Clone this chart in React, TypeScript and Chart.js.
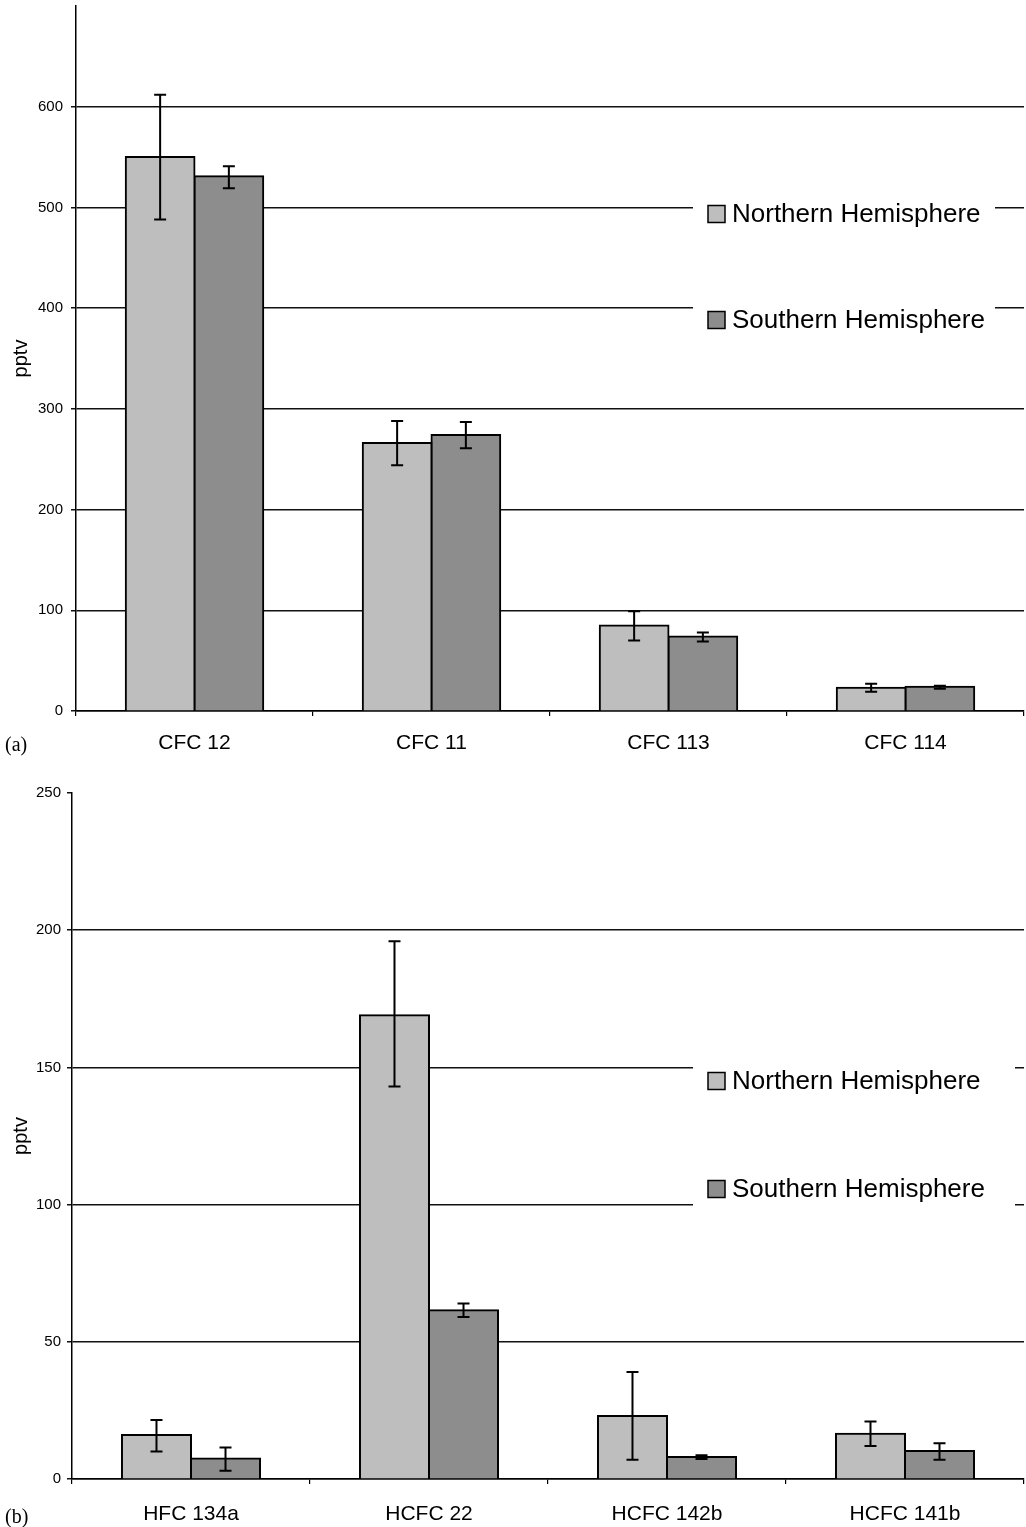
import React, { useEffect, useRef } from 'react';
import { Chart, registerables } from 'chart.js';
Chart.register(...registerables);

const seriesNames = ['Northern Hemisphere', 'Southern Hemisphere'];

// Panel (a)
const categoriesA = ['CFC 12', 'CFC 11', 'CFC 113', 'CFC 114'];
const northA = [550, 266, 85, 23];
const northALow = [488, 244, 70, 19];
const northAHigh = [612, 288, 99, 27];
const southA = [531, 274, 74, 24];
const southALow = [519, 261, 69, 22];
const southAHigh = [541, 287, 78, 25];
const yTicksA = [0, 100, 200, 300, 400, 500, 600];

// Panel (b)
const categoriesB = ['HFC 134a', 'HCFC 22', 'HCFC 142b', 'HCFC 141b'];
const northB = [16, 169, 23, 16.5];
const northBLow = [10, 143, 7, 12];
const northBHigh = [21.5, 196, 39, 21];
const southB = [7.5, 61.5, 8, 10.2];
const southBLow = [3, 59, 7.3, 7];
const southBHigh = [11.5, 64, 8.7, 13];
const yTicksB = [0, 50, 100, 150, 200, 250];

const NH_COLOR = '#bebebe';
const SH_COLOR = '#8d8d8d';
const FONT = '"Liberation Sans", Arial, Helvetica, sans-serif';

const errorBarPlugin = {
  id: 'errorBars',
  afterDatasetsDraw(chart: any) {
    const ctx = chart.ctx;
    const yScale = chart.scales.y;
    ctx.save();
    ctx.strokeStyle = '#000';
    ctx.lineWidth = 2;
    chart.data.datasets.forEach((ds: any, di: number) => {
      const meta = chart.getDatasetMeta(di);
      meta.data.forEach((bar: any, i: number) => {
        const lo = yScale.getPixelForValue(ds.errLow[i]);
        const hi = yScale.getPixelForValue(ds.errHigh[i]);
        const x = bar.x;
        const cap = 6;
        ctx.beginPath();
        ctx.moveTo(x, lo);
        ctx.lineTo(x, hi);
        ctx.moveTo(x - cap, lo);
        ctx.lineTo(x + cap, lo);
        ctx.moveTo(x - cap, hi);
        ctx.lineTo(x + cap, hi);
        ctx.stroke();
      });
    });
    ctx.restore();
  },
};

const boxLegendPlugin = {
  id: 'boxLegend',
  afterDraw(chart: any, _args: any, opts: any) {
    const ctx = chart.ctx;
    const b = opts.box;
    ctx.save();
    ctx.fillStyle = '#fff';
    ctx.fillRect(b.x, b.y, b.w, b.h);
    opts.rows.forEach((r: any, i: number) => {
      ctx.fillStyle = chart.data.datasets[i].backgroundColor;
      ctx.fillRect(opts.swatchX, r - 8.5, 17, 17);
      ctx.strokeStyle = '#000';
      ctx.lineWidth = 1.5;
      ctx.strokeRect(opts.swatchX, r - 8.5, 17, 17);
      ctx.fillStyle = '#000';
      ctx.font = `${opts.fontSize}px ${FONT}`;
      ctx.textBaseline = 'middle';
      ctx.textAlign = 'left';
      ctx.fillText(chart.data.datasets[i].label, opts.textX, r + 1);
    });
    ctx.restore();
  },
};

type PanelProps = {
  top: number;
  height: number;
  categories: string[];
  north: number[];
  northLow: number[];
  northHigh: number[];
  south: number[];
  southLow: number[];
  southHigh: number[];
  yTicks: number[];
  yMax: number;
  yStep: number;
  padTop: number;
  axisWidth: number;
  xHeight: number;
  xTickPad: number;
  yTickPad: number;
  legend: any;
};

function Panel(p: PanelProps) {
  const ref = useRef<HTMLCanvasElement | null>(null);
  useEffect(() => {
    if (!ref.current) return;
    const lastTick = p.yTicks[p.yTicks.length - 1];
    const chart = new Chart(ref.current, {
      type: 'bar',
      data: {
        labels: p.categories,
        datasets: [
          {
            label: seriesNames[0],
            data: p.north,
            backgroundColor: NH_COLOR,
            borderColor: '#000',
            borderWidth: 2,
            inflateAmount: 1,
            errLow: p.northLow,
            errHigh: p.northHigh,
          } as any,
          {
            label: seriesNames[1],
            data: p.south,
            backgroundColor: SH_COLOR,
            borderColor: '#000',
            borderWidth: 2,
            inflateAmount: 1,
            errLow: p.southLow,
            errHigh: p.southHigh,
          } as any,
        ],
      },
      options: {
        responsive: false,
        animation: false,
        devicePixelRatio: 1,
        layout: { padding: { top: p.padTop, right: 2, left: 0, bottom: 0 } },
        datasets: { bar: { categoryPercentage: 0.58, barPercentage: 1.0 } },
        plugins: {
          legend: { display: false },
          tooltip: { enabled: false },
          boxLegend: p.legend,
        } as any,
        scales: {
          x: {
            offset: true,
            grid: {
              display: true,
              drawOnChartArea: false,
              drawTicks: true,
              tickLength: 5,
              offset: true,
              color: '#000',
              lineWidth: 1.2,
            },
            border: { display: true, color: '#000', width: 1.5 },
            ticks: {
              color: '#000',
              padding: p.xTickPad,
              font: { family: FONT, size: 21 },
              maxRotation: 0,
            },
            afterFit: (s: any) => {
              s.height = p.xHeight;
              s.paddingLeft = 0;
              s.paddingRight = 0;
            },
          },
          y: {
            min: 0,
            max: p.yMax,
            ticks: {
              stepSize: p.yStep,
              color: '#000',
              padding: p.yTickPad,
              font: { family: FONT, size: 15 },
            },
            afterBuildTicks: (s: any) => {
              s.ticks = s.ticks.filter((t: any) => p.yTicks.includes(t.value));
            },
            grid: {
              color: (c: any) =>
                c.tick && (c.tick.value === lastTick && lastTick === p.yMax) ? 'rgba(0,0,0,0)' : '#111',
              tickColor: '#111',
              lineWidth: 1.5,
              tickLength: 5,
            },
            border: { display: true, color: '#000', width: 1.5 },
            title: {
              display: true,
              text: 'pptv',
              color: '#000',
              font: { family: FONT, size: 20 },
              padding: { top: 9, bottom: 0 },
            },
            afterFit: (s: any) => {
              s.width = p.axisWidth;
              s.paddingTop = 0;
              s.paddingBottom = 0;
            },
          },
        },
      },
      plugins: [errorBarPlugin, boxLegendPlugin],
    } as any);
    return () => chart.destroy();
  }, []);
  return (
    <canvas
      ref={ref}
      width={1026}
      height={p.height}
      style={{ position: 'absolute', left: 0, top: p.top, width: 1026, height: p.height }}
    />
  );
}

export default function App() {
  return (
    <div style={{ position: 'absolute', left: 0, top: 0, width: 1026, height: 1527, background: '#fff', overflow: 'hidden' }}>
      <Panel
        top={0}
        height={770}
        categories={categoriesA}
        north={northA}
        northLow={northALow}
        northHigh={northAHigh}
        south={southA}
        southLow={southALow}
        southHigh={southAHigh}
        yTicks={yTicksA}
        yMax={700}
        yStep={100}
        padTop={6}
        axisWidth={76}
        xHeight={59}
        xTickPad={15}
        yTickPad={8}
        legend={{
          box: { x: 693, y: 190, w: 302, h: 150 },
          rows: [214, 320],
          swatchX: 708,
          textX: 732,
          fontSize: 26,
        }}
      />
      <Panel
        top={770}
        height={757}
        categories={categoriesB}
        north={northB}
        northLow={northBLow}
        northHigh={northBHigh}
        south={southB}
        southLow={southBLow}
        southHigh={southBHigh}
        yTicks={yTicksB}
        yMax={250}
        yStep={50}
        padTop={23}
        axisWidth={72}
        xHeight={48}
        xTickPad={18}
        yTickPad={6}
        legend={{
          box: { x: 693, y: 280, w: 322, h: 165 },
          rows: [311, 419],
          swatchX: 708,
          textX: 732,
          fontSize: 26,
        }}
      />
      <div style={{ position: 'absolute', left: 5, top: 733, fontFamily: '"Liberation Serif", "Times New Roman", serif', fontSize: 20, color: '#000' }}>(a)</div>
      <div style={{ position: 'absolute', left: 5, top: 1505, fontFamily: '"Liberation Serif", "Times New Roman", serif', fontSize: 20, color: '#000' }}>(b)</div>
    </div>
  );
}
